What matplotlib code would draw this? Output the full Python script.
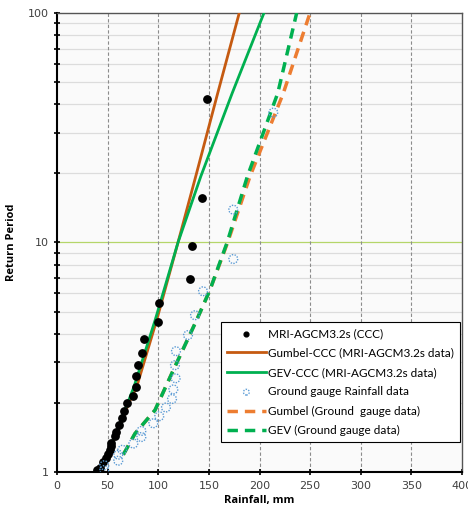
import matplotlib
matplotlib.use('Agg')
import matplotlib.pyplot as plt
from matplotlib.ticker import FixedLocator, NullFormatter

# observed annual maxima, MRI-AGCM3.2s (rainfall mm, return period)
ccc_rain = [39.2, 42.5, 45.1, 48.4, 50.7, 52.3, 53.0, 53.3, 57.3, 58.0, 61.5, 64.5, 66.2,
            68.8, 74.8, 78.0, 78.0, 79.7, 83.7, 86.2, 99.8, 101.0, 131.1, 133.6, 142.9, 148.4]
ccc_T = [1.02, 1.04, 1.10, 1.15, 1.20, 1.25, 1.30, 1.34, 1.44, 1.50, 1.60, 1.72, 1.85,
         2.00, 2.15, 2.35, 2.62, 2.93, 3.31, 3.81, 4.49, 5.47, 6.95, 9.68, 15.7, 42.0]

# ground gauge annual maxima
gauge_rain = [46.7, 46.7, 60.5, 60.5, 64.5, 75.4, 83.3, 83.3, 95.1, 101.0, 107.6, 113.6,
              114.9, 117.2, 116.5, 117.5, 129.4, 136.3, 144.2, 174.1, 174.1, 213.6]
gauge_T = [1.02, 1.07, 1.12, 1.19, 1.25, 1.33, 1.42, 1.51, 1.63, 1.75, 1.91, 2.08,
           2.29, 2.56, 2.92, 3.36, 3.95, 4.82, 6.13, 8.47, 13.9, 36.8]

# fitted curves
gum_ccc_rain = [54.5, 59.3, 71.0, 78.7, 98.5, 119.5, 137.0, 158.7, 180.0]
gum_ccc_T = [1.33, 1.47, 2.0, 2.35, 4.6, 10.0, 19.4, 44.7, 100.0]
gev_ccc_rain = [54.0, 58.0, 76.0, 97.0, 119.5, 142.0, 173.0, 204.4]
gev_ccc_T = [1.33, 1.47, 2.35, 4.6, 10.0, 19.4, 44.7, 100.0]
gum_gauge_rain = [65.5, 77.0, 96.8, 114.9, 138.0, 151.0, 168.5, 190.6, 223.5, 249.9]
gum_gauge_T = [1.19, 1.47, 1.86, 2.78, 4.6, 6.2, 10.0, 19.4, 44.7, 100.0]
gev_gauge_rain = [65.5, 77.0, 96.8, 114.9, 138.0, 151.0, 168.0, 188.0, 218.0, 236.7]
gev_gauge_T = [1.19, 1.47, 1.86, 2.78, 4.6, 6.2, 10.0, 19.4, 44.7, 100.0]

fig = plt.figure(figsize=(4.68, 5.15), dpi=100)
ax = fig.add_axes([0.1218, 0.0835, 0.8654, 0.8913])
ax.set_facecolor('#fafafa')

ax.set_yscale('log')
ax.set_xlim(0, 400)
ax.set_ylim(1, 100)

# grid
minors = [2, 3, 4, 5, 6, 7, 8, 9, 20, 30, 40, 50, 60, 70, 80, 90]
for v in minors:
    ax.axhline(v, color='#dcdcdc', lw=0.9, zorder=0)
ax.axhline(10, color='#b5d66a', lw=0.9, zorder=0)
for v in range(50, 400, 50):
    ax.axvline(v, color='#8c8c8c', lw=0.8, ls=(0, (3, 2)), zorder=0)

ax.scatter(ccc_rain, ccc_T, s=28, color='black', zorder=5, label='MRI-AGCM3.2s (CCC)')
ax.plot(gum_ccc_rain, gum_ccc_T, color='#c55a11', lw=2, zorder=4,
        label='Gumbel-CCC (MRI-AGCM3.2s data)')
ax.plot(gev_ccc_rain, gev_ccc_T, color='#00b050', lw=2, zorder=4,
        label='GEV-CCC (MRI-AGCM3.2s data)')
ax.scatter(gauge_rain, gauge_T, s=40, facecolor='none', edgecolor='#5b9bd5',
           linewidths=1.0, linestyle=(0, (1, 1)), zorder=5, label='Ground gauge Rainfall data')
ax.plot(gum_gauge_rain, gum_gauge_T, color='#ed7d31', lw=2.5, ls=(0, (3, 2)), zorder=4,
        label='Gumbel (Ground  gauge data)')
ax.plot(gev_gauge_rain, gev_gauge_T, color='#00b050', lw=2.5, ls=(0, (3, 2)), zorder=4,
        label='GEV (Ground gauge data)')

# axes styling
ax.yaxis.set_major_locator(FixedLocator([1, 10, 100]))
ax.yaxis.set_major_formatter(plt.FixedFormatter(['1', '10', '100']))
ax.yaxis.set_minor_locator(FixedLocator(minors))
ax.yaxis.set_minor_formatter(NullFormatter())
ax.set_xticks(range(0, 401, 50))
ax.tick_params(axis='both', which='both', direction='inout', length=5, width=1.2,
               labelsize=8, labelcolor='#404040', color='black')
ax.tick_params(axis='x', length=5, pad=4)
for side in ['left', 'bottom']:
    ax.spines[side].set_linewidth(1.5)
    ax.spines[side].set_color('black')
for side in ['top', 'right']:
    ax.spines[side].set_linewidth(1.0)
    ax.spines[side].set_color('#555555')

ax.set_xlabel('Rainfall, mm', fontsize=8, fontweight='bold', family='Open Sans', labelpad=3)
ax.set_ylabel('Return Period', fontsize=8, fontweight='bold', family='Open Sans', labelpad=8)

leg = ax.legend(loc='upper right', bbox_to_anchor=(0.995, 0.327),
                prop={'family': 'Lato', 'size': 8.5}, frameon=True, fancybox=False,
                edgecolor='black', framealpha=1, handlelength=3.3, handletextpad=0.2,
                labelspacing=0.72, borderpad=0.5, borderaxespad=0, markerscale=0.65)
leg.get_frame().set_linewidth(0.8)

plt.savefig('out.png', dpi=100)
